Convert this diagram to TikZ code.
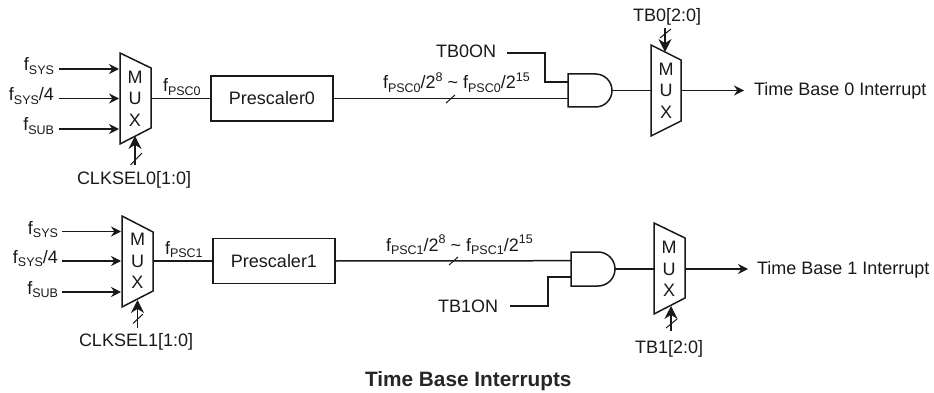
\documentclass[tikz,border=0pt]{standalone}
\usepackage{fontspec}
\setmainfont{Liberation Sans}
\usetikzlibrary{arrows.meta}
\newcommand{\lowtxt}[1]{\raisebox{-0.22em}{\fontsize{12.5}{12.5}\selectfont #1}}
\newcommand{\hightxt}[1]{\raisebox{0.42em}{\fontsize{12.5}{12.5}\selectfont #1}}
\tikzset{
  x=1pt,y=-1pt,
  wire/.style={line width=1.5pt,draw=black!90},
  flow/.style={wire,-{Stealth[length=10pt,width=10pt]}},
  busin/.style={wire,-{Stealth[length=13pt,width=13pt]}},
  shapeline/.style={line width=1.5pt,draw=black!90,line join=miter},
  lbl/.style={inner sep=0pt,outer sep=0pt,font=\fontsize{18}{18}\selectfont,text=black!90},
  muxlbl/.style={lbl,align=center},
  title/.style={inner sep=0pt,outer sep=0pt,font=\fontsize{20.8}{20.8}\selectfont\bfseries,text=black!85},
  pbox/.style={draw=black!90,line width=1.5pt,minimum width=122pt,minimum height=45pt,inner sep=0pt,font=\fontsize{18}{18}\selectfont,text=black!90},
}
\begin{document}
\begin{tikzpicture}
\useasboundingbox (0,0) rectangle (934,393);
% ---- Row 0 -----
\draw[shapeline] (120,53) -- (151,68) -- (151,128) -- (120,144) -- cycle;
\coordinate (m0in1) at (119,69);
\coordinate (m0in2) at (119,98.5);
\coordinate (m0in3) at (119,129);
\coordinate (m0out) at (151,98.5);
\coordinate (m0sel) at (135,136);
\node[muxlbl] (m0t) at (135,98.5) {M\\[3.5pt]U\\[3.5pt]X};
\coordinate (a0) at (59,69); \coordinate (a1) at (59,98.5); \coordinate (a2) at (59,129);
\node[lbl,anchor=base east] (s0a) at (54,71) {f\lowtxt{SYS}};
\node[lbl,anchor=base east] (s0b) at (54,101) {f\lowtxt{SYS}/4};
\node[lbl,anchor=base east] (s0c) at (54,131) {f\lowtxt{SUB}};
\draw[flow] (a0) -- (m0in1);
\draw[flow] (a1) -- (m0in2);
\draw[flow] (a2) -- (m0in3);
\node[lbl,anchor=base west] (c0) at (77,184) {CLKSEL0[1:0]};
\coordinate (c0s) at (135,165);
\draw[busin] (c0s) -- (m0sel);
\draw[wire,line width=1pt] (130.5,165) -- (142,153);
\node[lbl,anchor=base west] (f0) at (163,92) {f\lowtxt{PSC0}};
\node[pbox] (p0) at (272,98.5) {Prescaler0};
\draw[wire] (m0out) -- (p0.west);
% AND 0
\draw[shapeline] (568,74) -- (595.5,74) arc[start angle=-90,end angle=90,radius=16.5] -- (568,107) -- cycle;
\coordinate (g0a) at (568,82); \coordinate (g0b) at (568,98.5); \coordinate (g0o) at (612,90.5);
\draw[wire] (p0.east) -- (g0b);
\draw[wire,line width=1pt] (446,103) -- (455,95);
\node[lbl,anchor=base west] (t0) at (383,89) {f\lowtxt{PSC0}/2\hightxt{8} \textasciitilde{} f\lowtxt{PSC0}/2\hightxt{15}};
\node[lbl,anchor=base west] (on0) at (436,58) {TB0ON};
\coordinate (on0s) at (507,53);
\draw[wire] (on0s) -| (545,82) -- (g0a);
% MUX 2
\draw[shapeline] (651,45) -- (681,60) -- (681,121) -- (651,136) -- cycle;
\coordinate (m1in) at (651,90.5); \coordinate (m1out) at (681,90.5); \coordinate (m1sel) at (665,52);
\node[muxlbl] (m1t) at (666,90.5) {M\\[3.5pt]U\\[3.5pt]X};
\draw[wire] (g0o) -- (m1in);
\coordinate (e0) at (744,90.5);
\draw[flow] (m1out) -- (e0);
\node[lbl,anchor=base west] (e0t) at (754,96) {Time Base 0 Interrupt};
\node[lbl,anchor=base west] (tb0) at (633,22) {TB0[2:0]};
\coordinate (tb0s) at (665,28);
\draw[busin] (tb0s) -- (m1sel);
\draw[wire,line width=1pt] (660,38) -- (671,29);
% ---- Row 1 -----
\draw[shapeline] (122,216) -- (153,232) -- (153,291) -- (122,307) -- cycle;
\coordinate (n0in1) at (121,231.5);
\coordinate (n0in2) at (121,261);
\coordinate (n0in3) at (121,292);
\coordinate (n0out) at (153,261);
\coordinate (n0sel) at (137.5,300);
\node[muxlbl] (n0t) at (137.5,261) {M\\[3.5pt]U\\[3.5pt]X};
\coordinate (b0) at (62,231.5); \coordinate (b1) at (62,261); \coordinate (b2) at (62,292);
\node[lbl,anchor=base east] (s1a) at (58,234) {f\lowtxt{SYS}};
\node[lbl,anchor=base east] (s1b) at (58,263) {f\lowtxt{SYS}/4};
\node[lbl,anchor=base east] (s1c) at (58,294) {f\lowtxt{SUB}};
\draw[flow] (b0) -- (n0in1);
\draw[flow] (b1) -- (n0in2);
\draw[flow] (b2) -- (n0in3);
\node[lbl,anchor=base west] (c1) at (79,346) {CLKSEL1[1:0]};
\coordinate (c1s) at (137.5,328);
\draw[busin] (c1s) -- (n0sel);
\draw[wire,line width=1pt] (133,323.5) -- (143,314);
\node[lbl,anchor=base west] (f1) at (165,254) {f\lowtxt{PSC1}};
\node[pbox] (p1) at (274,261) {Prescaler1};
\draw[wire] (n0out) -- (p1.west);
% AND 1
\draw[shapeline] (571,252) -- (598,252) arc[start angle=-90,end angle=90,radius=17] -- (571,286) -- cycle;
\coordinate (g1a) at (571,260.7); \coordinate (g1b) at (571,277); \coordinate (g1o) at (615,269);
\draw[wire] (p1.east) -- (g1a);
\draw[wire,line width=1pt] (449,265) -- (458,257);
\node[lbl,anchor=base west] (t1) at (386,251) {f\lowtxt{PSC1}/2\hightxt{8} \textasciitilde{} f\lowtxt{PSC1}/2\hightxt{15}};
\node[lbl,anchor=base west] (on1) at (438,312) {TB1ON};
\coordinate (on1s) at (510,306);
\draw[wire] (on1s) -| (548,277) -- (g1b);
% MUX 3
\draw[shapeline] (654,223) -- (685,238) -- (685,298) -- (654,314) -- cycle;
\coordinate (n1in) at (654,269); \coordinate (n1out) at (685,269); \coordinate (n1sel) at (671,306);
\node[muxlbl] (n1t) at (669,269) {M\\[3.5pt]U\\[3.5pt]X};
\draw[wire] (g1o) -- (n1in);
\coordinate (e1) at (748,269);
\draw[flow] (n1out) -- (e1);
\node[lbl,anchor=base west] (e1t) at (757,274) {Time Base 1 Interrupt};
\node[lbl,anchor=base west] (tb1) at (635,353) {TB1[2:0]};
\coordinate (tb1s) at (671,331);
\draw[busin] (tb1s) -- (n1sel);
\draw[wire,line width=1pt] (666,328) -- (677,319);
\node[title,anchor=base west] (ttl) at (365,386) {Time Base Interrupts};
\end{tikzpicture}
\end{document}
